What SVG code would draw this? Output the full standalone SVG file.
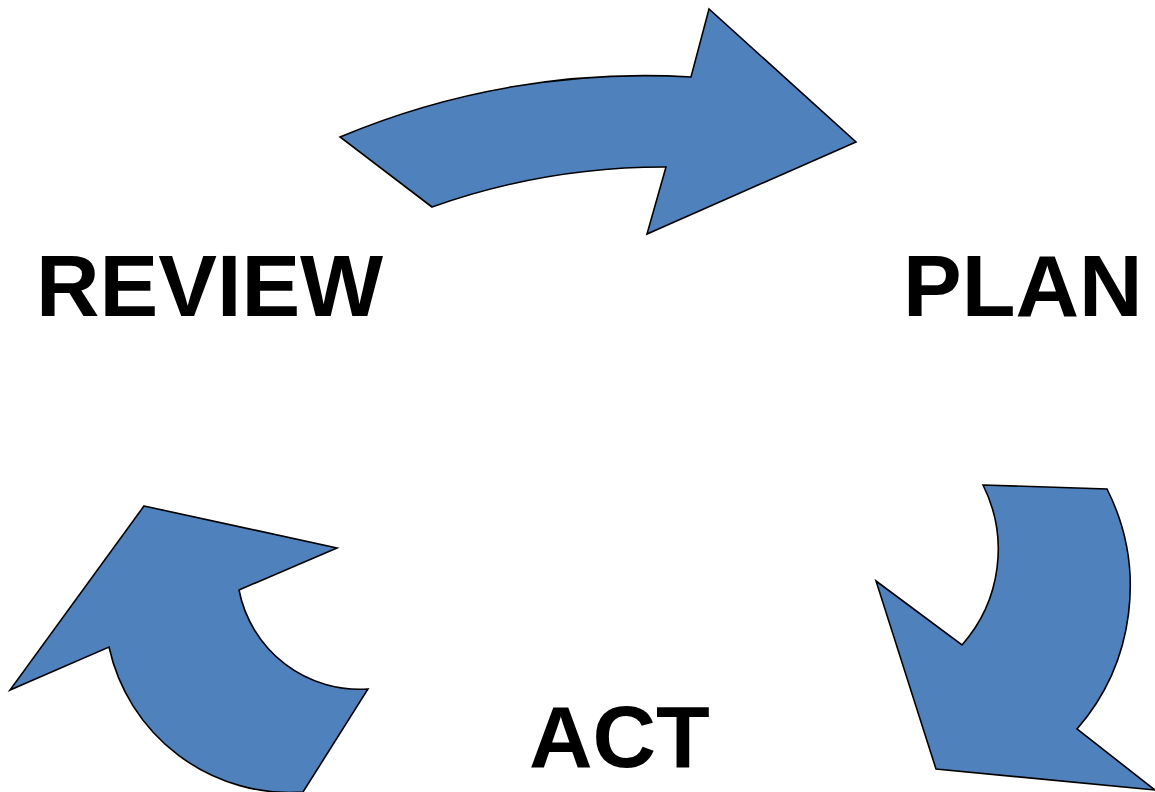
<svg xmlns="http://www.w3.org/2000/svg" width="1155" height="792" viewBox="0 0 1155 792">
<style>
.arrow{fill:#4F81BD;stroke:#000;stroke-width:1.6;stroke-linejoin:miter}
.lbl{font-family:"Liberation Sans",Arial,sans-serif;font-weight:bold;font-size:88px;fill:#000}
</style>
<rect width="1155" height="792" fill="#fff"/>
<g id="connectors">
<path id="arrow-review-plan" class="arrow" d="M340,137 A785,785 0 0 1 691,77 L709,9 L856,142 L647,234 L666,167 A693,693 0 0 0 432,207 Z"/>
<path id="arrow-plan-act" class="arrow" d="M983,485 L1107,489 A217,217 0 0 1 1077,729 L1155,790 L936,769 L876,581 L962,645 A144,144 0 0 0 983,485 Z"/>
<path id="arrow-act-review" class="arrow" d="M144,506 L337,548 L239,590 A123,123 0 0 0 368,689 L303,792 A185,185 0 0 1 109,647 L10,690 Z"/>
</g>
<g id="node-review"><text class="lbl" x="36" y="316">REVIEW</text></g>
<g id="node-plan"><text class="lbl" x="903" y="316">PLAN</text></g>
<g id="node-act"><text class="lbl" x="529" y="767">ACT</text></g>
</svg>
